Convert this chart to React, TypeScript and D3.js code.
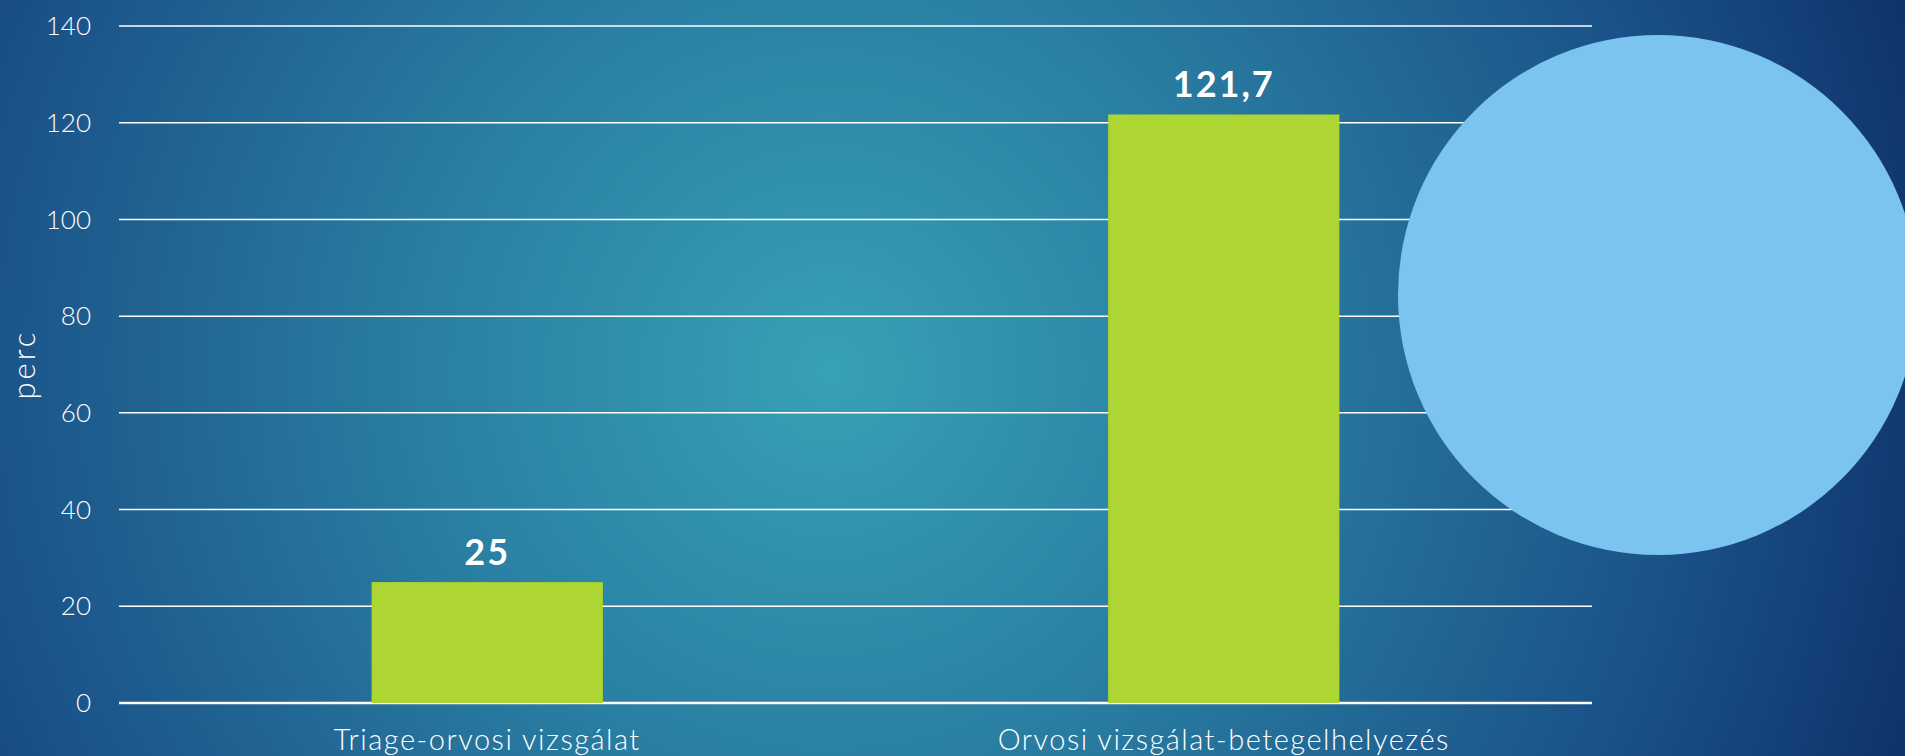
import React, { useEffect, useRef } from "react";
import * as d3 from "d3";

// chart values
const categories = ["Triage-orvosi vizsgálat", "Orvosi vizsgálat-betegelhelyezés"];
const values = [25, 121.7];
const valueLabels = ["25", "121,7"];
const yTicks = [0, 20, 40, 60, 80, 100, 120, 140];

const W = 1905;
const H = 756;
const FONT = "Lato, 'Open Sans', sans-serif";

export default function App() {
  const ref = useRef<SVGSVGElement>(null);

  useEffect(() => {
    document.body.style.margin = "0";
    const svg = d3.select(ref.current);
    svg.selectAll("*").remove();

    // background radial gradient
    const defs = svg.append("defs");
    const grad = defs
      .append("radialGradient")
      .attr("id", "bg")
      .attr("gradientUnits", "userSpaceOnUse")
      .attr("cx", 830)
      .attr("cy", 370)
      .attr("r", 1150);
    grad.append("stop").attr("offset", "0").attr("stop-color", "#37a1b5");
    grad.append("stop").attr("offset", "0.35").attr("stop-color", "#2a7fa2");
    grad.append("stop").attr("offset", "0.75").attr("stop-color", "#1a5188");
    grad.append("stop").attr("offset", "1").attr("stop-color", "#0e316a");

    svg.append("rect").attr("width", W).attr("height", H).attr("fill", "url(#bg)");

    const x = d3
      .scaleBand()
      .domain(categories)
      .range([119, 1592])
      .paddingInner(0.686)
      .paddingOuter(0.343);

    const y = d3.scaleLinear().domain([0, 140]).range([703, 26]);

    // gridlines
    svg
      .append("g")
      .selectAll("line")
      .data(yTicks)
      .enter()
      .append("line")
      .attr("x1", 119)
      .attr("x2", 1592)
      .attr("y1", (d) => y(d))
      .attr("y2", (d) => y(d))
      .attr("stroke", "#ffffff")
      .attr("stroke-width", (d) => (d === 0 ? 2.5 : 1.5));

    // tick labels
    svg
      .append("g")
      .selectAll("text")
      .data(yTicks)
      .enter()
      .append("text")
      .attr("x", 91)
      .attr("y", (d) => y(d))
      .attr("dy", "0.35em")
      .attr("text-anchor", "end")
      .attr("fill", "#ffffff")
      .style("font-family", FONT)
      .style("font-weight", 300)
      .style("font-size", "26px")
      .text((d) => String(d));

    // axis title
    svg
      .append("text")
      .attr("transform", "translate(35," + (y(0) + y(140)) / 2 + ") rotate(-90)")
      .attr("text-anchor", "middle")
      .attr("fill", "#ffffff")
      .style("font-family", FONT)
      .style("font-weight", 300)
      .style("font-size", "31px")
      .style("letter-spacing", "3px")
      .text("perc");

    // bars
    svg
      .append("g")
      .selectAll("rect")
      .data(values)
      .enter()
      .append("rect")
      .attr("x", (d, i) => x(categories[i]) as number)
      .attr("y", (d) => y(d))
      .attr("width", x.bandwidth())
      .attr("height", (d) => y(0) - y(d))
      .attr("fill", "#add533");

    // value labels
    svg
      .append("g")
      .selectAll("text")
      .data(values)
      .enter()
      .append("text")
      .attr("x", (d, i) => (x(categories[i]) as number) + x.bandwidth() / 2)
      .attr("y", (d) => y(d) - 17)
      .attr("text-anchor", "middle")
      .attr("fill", "#ffffff")
      .style("font-family", FONT)
      .style("font-weight", "bold")
      .style("font-size", "36px")
      .style("letter-spacing", "2px")
      .text((d, i) => valueLabels[i]);

    // category labels
    svg
      .append("g")
      .selectAll("text")
      .data(categories)
      .enter()
      .append("text")
      .attr("x", (d) => (x(d) as number) + x.bandwidth() / 2)
      .attr("y", 750)
      .attr("text-anchor", "middle")
      .attr("fill", "#ffffff")
      .style("font-family", FONT)
      .style("font-weight", 300)
      .style("font-size", "29px")
      .style("letter-spacing", "1.5px")
      .text((d) => d);

    // decorative circle from the slide
    svg
      .append("circle")
      .attr("cx", 1658)
      .attr("cy", 295)
      .attr("r", 260)
      .attr("fill", "#7bc4ef");
  }, []);

  return (
    <svg
      ref={ref}
      width={W}
      height={H}
      style={{ position: "absolute", left: 0, top: 0, display: "block" }}
    />
  );
}
